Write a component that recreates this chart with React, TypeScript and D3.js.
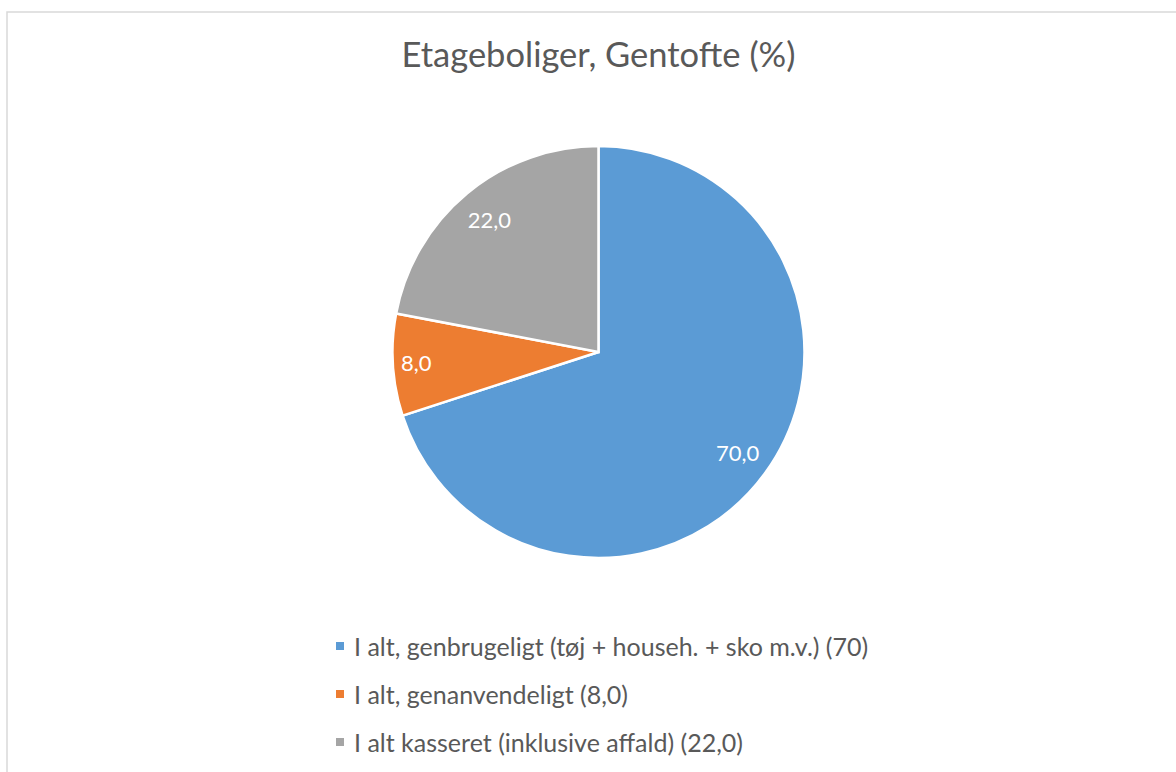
import React from "react";
import * as d3 from "d3";

const categories = [
  "I alt, genbrugeligt (tøj + househ. + sko m.v.) (70)",
  "I alt, genanvendeligt (8,0)",
  "I alt kasseret (inklusive affald) (22,0)",
];
const values = [70.0, 8.0, 22.0];
const valueLabels = ["70,0", "8,0", "22,0"];
const colors = ["#5B9BD5", "#ED7D31", "#A5A5A5"];
const title = "Etageboliger, Gentofte (%)";

const W = 1176;
const H = 772;
const cx = 598.5;
const cy = 352;
const R = 206;
const labelFrac = [0.835, 0.886, 0.832];
const FONT = "Lato, 'Open Sans', sans-serif";

export default function App() {
  const pie = d3.pie<number>().sort(null).value((d) => d)(values);
  const arc = d3.arc<d3.PieArcDatum<number>>().innerRadius(0).outerRadius(R);
  return (
    <svg
      width={W}
      height={H}
      style={{ position: "absolute", left: 0, top: 0, background: "#fff" }}
    >
      <rect x={7} y={12} width={W + 20} height={H + 20} fill="#fff" stroke="#d9d9d9" strokeWidth={1.5} />
      <text x={cx} y={67} textAnchor="middle" fontFamily={FONT} fontSize={34.5} fill="#595959">
        {title}
      </text>
      <g transform={`translate(${cx},${cy})`}>
        {pie.map((p, i) => (
          <path key={i} d={arc(p) || ""} fill={colors[i]} stroke="#fff" strokeWidth={2.5} strokeLinejoin="miter" />
        ))}
        {pie.map((p, i) => {
          const a = (p.startAngle + p.endAngle) / 2;
          const r = R * labelFrac[i];
          const x = Math.sin(a) * r;
          const y = -Math.cos(a) * r;
          return (
            <text key={i} x={x} y={y} dy="0.36em" textAnchor="middle" fontFamily={FONT} fontSize={22} fill="#fff">
              {valueLabels[i]}
            </text>
          );
        })}
      </g>
      {categories.map((c, i) => (
        <g key={i} transform={`translate(336,${656 + i * 48})`}>
          <rect x={0} y={-14} width={8} height={8} fill={colors[i]} />
          <text x={18} y={0} fontFamily={FONT} fontSize={25} fill="#595959">
            {c}
          </text>
        </g>
      ))}
    </svg>
  );
}
